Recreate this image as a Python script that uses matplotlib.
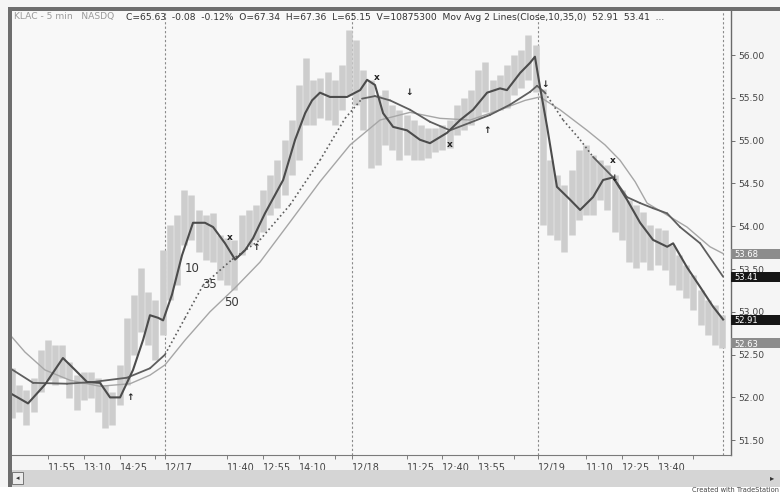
import matplotlib
matplotlib.use("Agg")
import matplotlib.pyplot as plt
import matplotlib.transforms as mtransforms
from matplotlib.patches import Rectangle
from matplotlib import font_manager

# ---------------- data (bar index: 0 = 12/17 open, 78 bars per day) ----------------
bar_index = [-64, -61, -58, -55, -52, -49, -46, -43, -40, -37, -34, -31, -28, -25, -22, -19, -16, -13, -10, -7, -4, -1,
             2, 5, 8, 11, 14, 17, 20, 23, 26, 29, 32, 35, 38, 41, 44, 47, 50, 53, 56, 59, 62, 65, 68, 71, 74, 77,
             80, 83, 86, 89, 92, 95, 98, 101, 104, 107, 110, 113, 116, 119, 122, 125, 128, 131, 134, 137, 140, 143, 146, 149, 152, 155,
             158, 161, 164, 167, 170, 173, 176, 179, 182, 185, 188, 191, 194, 197, 200, 203, 206, 209, 212, 215, 218, 221, 224, 227, 230, 233]

bar_high = [52.34, 52.15, 52.09, 52.23, 52.55, 52.67, 52.61, 52.61, 52.41, 52.26, 52.30, 52.30, 52.23, 52.15, 52.06, 52.38, 52.93, 53.20, 53.51, 53.23, 53.14, 53.72,
            54.01, 54.13, 54.42, 54.36, 54.19, 54.13, 54.15, 53.90, 53.86, 53.84, 54.13, 54.19, 54.25, 54.42, 54.60, 54.77, 55.01, 55.24, 55.65, 55.96, 55.71, 55.73, 55.80, 55.71, 55.88, 56.29,
            56.18, 55.82, 55.71, 55.53, 55.59, 55.42, 55.36, 55.30, 55.24, 55.18, 55.15, 55.15, 55.18, 55.24, 55.42, 55.50, 55.59, 55.82, 55.92, 55.71, 55.77, 55.88, 56.00, 56.06, 56.23, 56.12,
            55.60, 54.77, 54.60, 54.48, 54.66, 54.89, 54.95, 54.83, 54.77, 54.72, 54.60, 54.42, 54.31, 54.25, 54.17, 54.01, 53.98, 53.96, 53.78, 53.66, 53.55, 53.43, 53.25, 53.14, 53.08, 52.96]

bar_low = [51.76, 51.83, 51.68, 51.83, 52.06, 52.20, 52.15, 52.23, 51.99, 51.85, 51.97, 51.99, 51.83, 51.64, 51.68, 51.91, 52.15, 52.50, 52.76, 52.61, 52.44, 52.73,
           53.14, 53.31, 53.78, 53.84, 53.70, 53.61, 53.58, 53.37, 53.31, 53.25, 53.66, 53.78, 53.84, 53.93, 54.13, 54.21, 54.36, 54.60, 54.77, 55.18, 55.18, 55.26, 55.24, 55.18, 55.36, 55.53,
           55.42, 55.12, 54.68, 54.72, 54.95, 54.89, 54.77, 54.83, 54.77, 54.77, 54.80, 54.87, 54.89, 54.91, 55.07, 55.12, 55.18, 55.26, 55.33, 55.33, 55.36, 55.38, 55.53, 55.61, 55.71, 55.57,
           54.01, 53.90, 53.84, 53.70, 53.90, 54.07, 54.13, 54.13, 54.31, 54.19, 53.93, 53.84, 53.58, 53.51, 53.58, 53.49, 53.55, 53.49, 53.31, 53.25, 53.16, 53.02, 52.85, 52.73, 52.61, 52.58]

last_close = 52.63

ma10_bar = [-64.8, -57.3, -50.2, -42.7, -37.6, -32.6, -27.2, -23.0, -18.8, -13.4, -9.2, -6.3, -2.9, -0.8,
            2.9, 7.1, 11.7, 16.7, 20.1, 25.1, 29.3, 33.5, 36.8, 41.8, 49.4, 54.4, 58.6, 61.5, 64.8, 69.0, 76.1,
            81.6, 84.5, 87.8, 91.2, 95.4, 101.2, 106.6, 110.8, 117.9, 123.4, 128.8, 134.7, 140.1, 143.0, 148.5, 152.7, 154.7,
            156.8, 159.8, 163.9, 169.4, 173.6, 179.0, 183.2, 187.4, 193.2, 198.7, 204.1, 210.0, 212.5, 218.3, 223.8, 229.2, 233.4]
ma10_val = [52.05, 51.93, 52.15, 52.46, 52.32, 52.18, 52.17, 52.00, 52.00, 52.32, 52.67, 52.96, 52.93, 52.90,
            53.20, 53.66, 54.04, 54.04, 53.99, 53.80, 53.61, 53.72, 53.86, 54.15, 54.54, 55.01, 55.32, 55.47, 55.56, 55.51, 55.51,
            55.59, 55.71, 55.65, 55.32, 55.16, 55.12, 55.01, 54.97, 55.09, 55.24, 55.36, 55.56, 55.61, 55.59, 55.79, 55.91, 55.98,
            55.63, 55.16, 54.46, 54.31, 54.19, 54.34, 54.54, 54.57, 54.31, 54.04, 53.84, 53.76, 53.80, 53.52, 53.29, 53.06, 52.91]

ma35_bar = [-64.8, -55.2, -41.0, -30.1, -15.9, -6.3, 0.0, 8.4, 15.9, 28.0, 39.7, 52.3, 64.8, 75.3, 82.4,
            87.8, 94.1, 102.5, 110.8, 119.2, 127.6, 135.9, 144.3, 152.7, 155.6,
            158.9, 166.5, 173.6, 179.0, 187.4, 193.2, 198.7, 204.1, 210.0, 215.4, 223.8, 233.4]
ma35_val = [52.34, 52.17, 52.16, 52.18, 52.23, 52.34, 52.50, 52.93, 53.31, 53.61, 53.84, 54.25, 54.77, 55.26, 55.49,
            55.52, 55.47, 55.36, 55.22, 55.12, 55.21, 55.30, 55.42, 55.57, 55.64,
            55.56, 55.24, 55.01, 54.81, 54.57, 54.34, 54.27, 54.21, 54.15, 53.99, 53.80, 53.41]

ma50_bar = [-64.8, -58.6, -50.2, -39.7, -27.2, -14.6, -6.3, 0.0, 8.4, 18.8, 29.3, 39.7, 52.3, 64.8, 77.4,
            89.9, 102.5, 115.0, 127.6, 140.1, 150.6, 156.8, 165.2, 176.5, 184.0, 190.3, 196.6, 201.6, 211.2, 218.3, 227.9, 233.4]
ma50_val = [52.73, 52.53, 52.32, 52.20, 52.13, 52.16, 52.26, 52.38, 52.67, 53.00, 53.28, 53.58, 54.05, 54.52, 54.95,
            55.24, 55.33, 55.26, 55.24, 55.36, 55.47, 55.51, 55.36, 55.12, 54.95, 54.77, 54.52, 54.27, 54.11, 53.99, 53.76, 53.68]

signal_bar = [-14.6, 27.2, 38.1, 88.7, 102.0, 119.2, 134.7, 158.9, 187.4, 187.8]
signal_val = [52.00, 53.87, 53.75, 55.74, 55.56, 54.95, 55.12, 55.65, 54.77, 54.56]
signal_kind = ["up", "x", "up", "x", "down", "x", "up", "down", "x", "down"]

ma_label_text = ["10", "35", "50"]
ma_label_bar = [11.3, 18.8, 28.0]
ma_label_val = [53.51, 53.32, 53.11]

day_bounds = [0, 78, 156, 233.3]
tick_bars = [-49, -34, -19, -4, 0, 26, 41, 56, 71, 78, 101, 116, 131, 146, 156, 176, 191, 206, 221]
tick_labels = ["11:55", "13:10", "14:25", "", "12/17", "11:40", "12:55", "14:10", "", "12/18",
               "11:25", "12:40", "13:55", "", "12/19", "11:10", "12:25", "13:40", ""]
y_ticks = [51.5, 52.0, 52.5, 53.0, 53.5, 54.0, 54.5, 55.0, 55.5, 56.0]

header_a = "KLAC - 5 min   NASDQ"
header_b = ("C=65.63  -0.08  -0.12%  O=67.34  H=67.36  L=65.15  V=10875300  "
            "Mov Avg 2 Lines(Close,10,35,0)  52.91  53.41  ...")

# ---------------- figure ----------------
W, H = 780, 494
fig = plt.figure(figsize=(W / 100, H / 100), dpi=100, facecolor="#f5f5f5")

names = {f.name for f in font_manager.fontManager.ttflist}
narrow = ["Liberation Sans Narrow", "DejaVu Sans"] if "Liberation Sans Narrow" in names else ["DejaVu Sans"]


def px_rect(x0, y0, x1, y1, color, z=0, ec=None, lw=0):
    fig.patches.append(Rectangle((x0 / W, 1 - y1 / H), (x1 - x0) / W, (y1 - y0) / H,
                                 transform=fig.transFigure, facecolor=color,
                                 edgecolor=ec if ec else color, lw=lw, zorder=z))


# bottom white strip, scrollbar, frame bands
px_rect(0, 487, W, H, "#ffffff")
px_rect(10, 470, W, 487, "#d5d5d5")
px_rect(12, 472, 23, 484, "#ececec", z=2, ec="#666666", lw=0.6)
px_rect(8, 7, W, 11, "#6e6e6e", z=3)
px_rect(8, 7, 12, 487, "#6e6e6e", z=3)

ax = fig.add_axes([12 / W, 1 - 455 / H, 719 / W, 444 / H])
ax.set_facecolor("#f8f8f8")
ax.set_xlim(-64.0, 236.7)
ax.set_ylim(56.0 - 400 / 85.6, 56.0 + 44 / 85.6)

for s in ["top", "left"]:
    ax.spines[s].set_visible(False)
ax.spines["right"].set_color("#6a6a6a")
ax.spines["right"].set_linewidth(1.0)
ax.spines["bottom"].set_color("#7a7a7a")
ax.spines["bottom"].set_linewidth(0.8)

# day separators
for b in day_bounds:
    ax.axvline(b, color="#8a8a8a", lw=0.8, ls=(0, (2, 2)), zorder=1)

# price bars
ax.vlines(bar_index, bar_low, bar_high, colors="#cdcdcd", lw=4.7, zorder=2)

# moving averages
ax.plot(ma50_bar, ma50_val, color="#a6a6a6", lw=1.0, zorder=4)
dotted_ranges = [(0, 83), (156, 180)]
for i in range(len(ma35_bar) - 1):
    x0, x1 = ma35_bar[i], ma35_bar[i + 1]
    dotted = any(a <= x0 and x1 <= b for a, b in dotted_ranges)
    ax.plot([x0, x1], [ma35_val[i], ma35_val[i + 1]], color="#5e5e5e",
            lw=1.3 if not dotted else 1.2, ls=":" if dotted else "-",
            solid_capstyle="round", zorder=5)
ax.plot(ma10_bar, ma10_val, color="#4c4c4c", lw=1.5, zorder=6)

# signal markers
glyph = {"up": "\u2191", "down": "\u2193", "x": "x"}
for b, v, k in zip(signal_bar, signal_val, signal_kind):
    ax.text(b, v, glyph[k], ha="center", va="center", fontsize=6.5, fontweight="bold",
            color="#222222", zorder=8)

for t, b, v in zip(ma_label_text, ma_label_bar, ma_label_val):
    ax.text(b, v, t, ha="center", va="center", fontsize=8.5, color="#3a3a3a", zorder=8)

# axes ticks
ax.yaxis.tick_right()
ax.set_yticks(y_ticks)
ax.set_yticklabels([f"{v:.2f}" for v in y_ticks])
ax.tick_params(axis="y", length=3, width=0.6, colors="#5a5a5a", labelsize=6.6, pad=2,
               labelcolor="#444444")
ax.set_xticks(tick_bars)
ax.set_xticklabels(tick_labels, ha="left", family=narrow)
ax.tick_params(axis="x", length=3, width=0.6, colors="#6a6a6a", labelsize=7, pad=3,
               labelcolor="#444444")

# right-side value boxes
trans = mtransforms.blended_transform_factory(ax.transAxes, ax.transData)
box_h = 10 / 85.6
for val, col in [(ma50_val[-1], "#8c8c8c"), (ma35_val[-1], "#161616"),
                 (ma10_val[-1], "#161616"), (last_close, "#8c8c8c")]:
    ax.add_patch(Rectangle((1.0, val - box_h / 2), 50 / 719, box_h, transform=trans,
                           facecolor=col, edgecolor="none", clip_on=False, zorder=10))
    ax.text(1.0 + 3 / 719, val - 0.01, f"{val:.2f}", transform=trans, color="white", fontsize=6,
            va="center", ha="left", clip_on=False, zorder=11)

# header
fig.text(14 / W, 1 - 17 / H, header_a, fontsize=6.6, color="#9a9a9a", va="center")
fig.text(126 / W, 1 - 17 / H, header_b, fontsize=6.6, color="#333333", va="center")

# scrollbar glyphs and footer
fig.text(17.5 / W, 1 - 478 / H, "\u25c2", fontsize=5, color="#333333", ha="center", va="center")
fig.text(772 / W, 1 - 478 / H, "\u25b8", fontsize=6, color="#333333", ha="center", va="center")
fig.text(779 / W, 1 / H, "Created with TradeStation", fontsize=4.8, color="#444444",
         va="bottom", ha="right")

fig.savefig("out.png", dpi=100, facecolor=fig.get_facecolor())
